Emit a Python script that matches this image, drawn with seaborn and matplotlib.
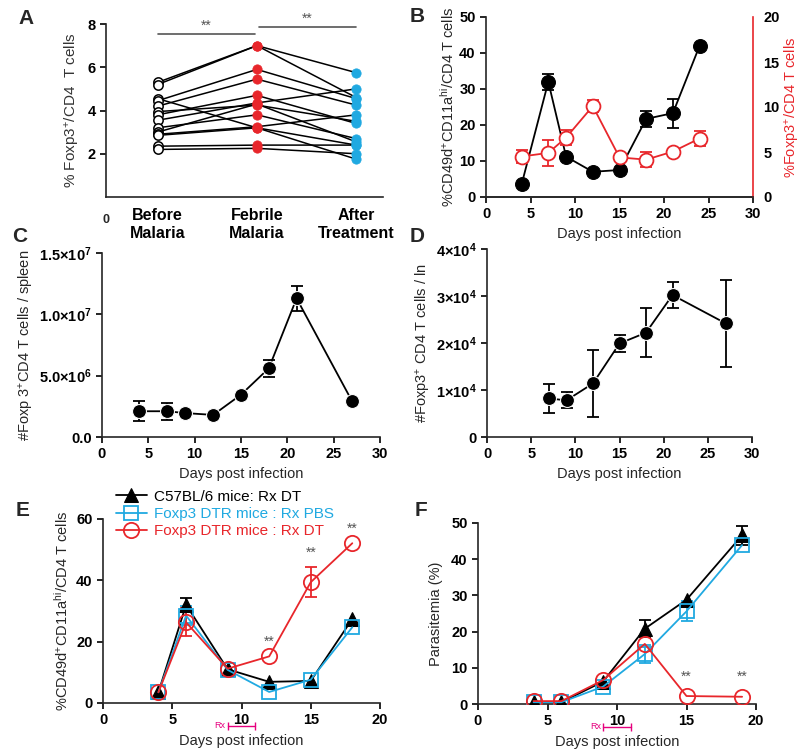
import numpy as np
import pandas as pd
import matplotlib
matplotlib.use("Agg")
import matplotlib.pyplot as plt
import matplotlib.transforms as mtransforms
import seaborn as sns

sns.set_style("ticks")
plt.rcParams.update({
    "font.family": ["Liberation Sans", "DejaVu Sans"],
    "mathtext.fontset": "custom",
    "mathtext.rm": "Liberation Sans",
    "mathtext.it": "Liberation Sans:italic",
    "mathtext.bf": "Liberation Sans:bold",
    "axes.linewidth": 1.2,
    "xtick.major.width": 1.2,
    "ytick.major.width": 1.2,
    "xtick.major.size": 4,
    "ytick.major.size": 4,
    "xtick.color": "black",
    "ytick.color": "black",
})

RED = "#E8262B"
BLUE = "#20A9E1"
PINK = "#E6007E"
GREY = "#555555"
LABEL_FS = 10.5
TICK_FS = 10.5

# ---------------- data ----------------
# A: paired human samples
stages = ["Before\nMalaria", "Febrile\nMalaria", "After\nTreatment"]
before = [5.3, 5.2, 4.55, 4.45, 4.2, 3.95, 3.8, 3.55, 3.2, 3.0, 2.9, 2.85, 2.35, 2.2]
febrile = [7.0, 7.0, 3.2, 5.9, 5.45, 4.25, 4.7, 4.35, 3.8, 4.3, 3.25, 3.2, 2.4, 2.25]
after = [5.75, 4.6, 1.75, 4.55, 4.25, 3.5, 3.4, 5.0, 2.7, 2.55, 3.8, 2.4, 2.4, 2.0]

# B
b_days = [4, 7, 9, 12, 15, 18, 21, 24]
b_act = [3.5, 32.0, 11.2, 7.0, 7.5, 21.7, 23.3, 42.0]
b_act_err = [0, 2.3, 0, 0, 0, 2.2, 4.0, 0]
b_treg = [4.5, 4.9, 6.6, 10.1, 4.4, 4.15, 5.05, 6.5]
b_treg_err = [0.7, 1.45, 0.8, 0.65, 0, 0.85, 0, 0.85]

# C
c_days = [4, 7, 9, 12, 15, 18, 21, 27]
c_spleen = [2.1e6, 2.1e6, 1.95e6, 1.8e6, 3.45e6, 5.6e6, 11.3e6, 2.9e6]
c_err = [0.8e6, 0.7e6, 0, 0, 0, 0.7e6, 1.0e6, 0]

# D
d_days = [7, 9, 12, 15, 18, 21, 27]
d_ln = [8.2e3, 7.8e3, 11.4e3, 19.9e3, 22.2e3, 30.2e3, 24.2e3]
d_err = [3.1e3, 1.7e3, 7.1e3, 1.8e3, 5.2e3, 2.8e3, 9.3e3]

# E / F series
groups = ["C57BL/6 mice: Rx DT", "Foxp3 DTR mice : Rx PBS", "Foxp3 DTR mice : Rx DT"]
e_days = [4, 6, 9, 12, 15, 18]
e_wt = [3.5, 32.0, 11.0, 6.9, 7.2, 27.4]
e_wt_err = [0, 2.3, 0, 0, 0, 0]
e_pbs = [3.5, 28.5, 10.8, 3.6, 7.6, 24.7]
e_pbs_err = [0, 3.0, 0, 0, 0, 0]
e_dt = [3.5, 26.3, 11.2, 15.2, 39.4, 52.1]
e_dt_err = [0, 4.6, 0, 0, 4.9, 0]
e_sig_days = [12, 15, 18]

f_days = [4, 6, 9, 12, 15, 19]
f_wt = [0.5, 0.5, 6.2, 20.8, 28.8, 46.6]
f_wt_err = [0, 0, 0, 2.4, 0, 2.7]
f_pbs = [0.5, 0.5, 4.8, 13.8, 25.6, 43.9]
f_pbs_err = [0, 0, 0, 2.4, 2.8, 0]
f_dt = [0.8, 0.8, 6.6, 16.6, 2.2, 2.0]
f_dt_err = [0, 0, 0, 0, 0, 0]
f_sig_days = [15, 19]

rx_window = [9, 11]

# ---------------- helpers ----------------
W, H = 800, 755
fig = plt.figure(figsize=(8, 7.55), dpi=100)


def make_ax(l, t, r, b):
    return fig.add_axes([l / W, 1 - b / H, (r - l) / W, (b - t) / H])


def style(ax, right=False):
    sns.despine(ax=ax, right=not right, top=True)
    ax.tick_params(labelsize=TICK_FS, direction="out")
    for lab in ax.get_xticklabels() + ax.get_yticklabels():
        lab.set_fontweight("bold")


def errbars(ax, x, y, e, color, lw=1.3):
    x = np.asarray(x, float)
    y = np.asarray(y, float)
    e = np.asarray(e, float)
    m = e > 0
    ax.errorbar(x[m], y[m], yerr=e[m], fmt="none", ecolor=color,
                elinewidth=lw, capsize=4.5, capthick=lw, zorder=2)


def rx_bar(ax):
    tr = mtransforms.blended_transform_factory(ax.transData, ax.transAxes)
    ax.plot(rx_window, [-0.125, -0.125], color=PINK, lw=1.0, marker="|",
            ms=6, mew=1.0, transform=tr, clip_on=False)
    ax.text(rx_window[0] - 0.15, -0.125, "Rx", color=PINK, fontsize=6.5,
            ha="right", va="center", transform=tr)


def letter(x, y, s):
    fig.text(x / W, 1 - y / H, s, fontsize=15, fontweight="bold",
             ha="left", va="center")


# ---------------- A ----------------
axA = make_ax(106, 24, 383, 197)
n = len(before)
dfA = pd.DataFrame({
    "subject": np.tile(np.arange(n), 3),
    "pos": np.repeat([0, 1, 2], n),
    "value": before + febrile + after,
})
sns.lineplot(data=dfA, x="pos", y="value", units="subject", estimator=None,
             color="black", lw=1.1, ax=axA, zorder=2)
sns.scatterplot(x=[0] * n, y=before, ax=axA, s=45, facecolor="white",
                edgecolor="black", linewidth=1.1, zorder=3)
sns.scatterplot(x=[1] * n, y=febrile, ax=axA, s=45, color=RED,
                edgecolor=RED, zorder=3)
sns.scatterplot(x=[2] * n, y=after, ax=axA, s=45, color=BLUE,
                edgecolor=BLUE, zorder=3)
axA.plot([0, 0.98], [7.55, 7.55], color=GREY, lw=1.2)
axA.plot([1.02, 2], [7.88, 7.88], color=GREY, lw=1.2)
axA.text(0.49, 7.6, "**", color=GREY, ha="center", va="bottom", fontsize=10)
axA.text(1.51, 7.93, "**", color=GREY, ha="center", va="bottom", fontsize=10)
axA.set_xlim(-0.52, 2.27)
axA.set_ylim(0, 8)
axA.set_yticks([2, 4, 6, 8])
axA.set_xticks([0, 1, 2])
axA.set_xticklabels(stages, fontsize=11.5)
axA.tick_params(axis="x", length=0, pad=8)
axA.set_xlabel("")
axA.set_ylabel("% Foxp3$^{+}$/CD4  T cells", fontsize=11, color="#333333")
style(axA)
axA.set_xticklabels(stages, fontsize=11.5, fontweight="bold")
axA.text(0, -0.1, "0", transform=axA.transAxes,
         ha="center", va="top", fontsize=9, fontweight="bold")

# ---------------- B ----------------
axB = make_ax(486, 17, 753, 197)
sns.lineplot(x=b_days, y=b_act, ax=axB, color="black", marker="o", ms=10,
             mec="black", lw=1.3, zorder=3)
errbars(axB, b_days, b_act, b_act_err, "black")
axB.set_xlim(0, 30)
axB.set_ylim(0, 50)
axB.set_xticks(range(0, 31, 5))
axB.set_yticks(range(0, 51, 10))
axB.set_xlabel("Days post infection", fontsize=LABEL_FS)
axB.set_ylabel(r"%CD49d$^{+}$CD11a$^{\mathrm{hi}}$/CD4 T cells", fontsize=10.5, labelpad=2)
axB2 = axB.twinx()
sns.lineplot(x=b_days, y=b_treg, ax=axB2, color=RED, marker="o", ms=10,
             mfc="white", mec=RED, mew=1.3, lw=1.3, zorder=3)
errbars(axB2, b_days, b_treg, b_treg_err, RED)
axB2.set_ylim(0, 20)
axB2.set_yticks(range(0, 21, 5))
axB2.set_ylabel("%Foxp3$^{+}$/CD4 T cells", fontsize=10.5, color=RED, labelpad=2)
style(axB)
sns.despine(ax=axB2, top=True, right=False, left=True)
axB2.spines["right"].set_color(RED)
axB2.tick_params(labelsize=TICK_FS)
for lab in axB2.get_yticklabels():
    lab.set_fontweight("bold")

# ---------------- C ----------------
axC = make_ax(102, 253, 380, 437)
sns.lineplot(x=c_days, y=c_spleen, ax=axC, color="black", marker="o", ms=10,
             lw=1.3, zorder=3)
errbars(axC, c_days, c_spleen, c_err, "black")
axC.set_xlim(0, 30)
axC.set_ylim(0, 1.5e7)
axC.set_xticks(range(0, 31, 5))
axC.set_yticks([0, 5e6, 1e7, 1.5e7])
axC.set_yticklabels(["0.0", r"$\mathbf{5.0{\times}10^{6}}$",
                     r"$\mathbf{1.0{\times}10^{7}}$", r"$\mathbf{1.5{\times}10^{7}}$"])
axC.set_xlabel("Days post infection", fontsize=LABEL_FS)
axC.set_ylabel("#Foxp 3$^{+}$CD4 T cells / spleen", fontsize=LABEL_FS, labelpad=2)
style(axC)

# ---------------- D ----------------
axD = make_ax(487, 249, 752, 437)
sns.lineplot(x=d_days, y=d_ln, ax=axD, color="black", marker="o", ms=10,
             lw=1.3, zorder=3)
errbars(axD, d_days, d_ln, d_err, "black")
axD.set_xlim(0, 30)
axD.set_ylim(0, 4e4)
axD.set_xticks(range(0, 31, 5))
axD.set_yticks([0, 1e4, 2e4, 3e4, 4e4])
axD.set_yticklabels(["0"] + [r"$\mathbf{%d{\times}10^{4}}$" % k for k in (1, 2, 3, 4)])
axD.set_xlabel("Days post infection", fontsize=LABEL_FS)
axD.set_ylabel("#Foxp3$^{+}$ CD4 T cells / ln", fontsize=LABEL_FS, labelpad=2)
style(axD)


# ---------------- E / F ----------------
def mouse_panel(ax, days, wt, wt_e, pbs, pbs_e, dt, dt_e):
    sns.lineplot(x=days, y=wt, ax=ax, color="black", marker="^", ms=10,
                 mec="black", lw=1.3, label=groups[0], zorder=3)
    sns.lineplot(x=days, y=pbs, ax=ax, color=BLUE, marker="s", ms=10,
                 mfc="none", mec=BLUE, mew=1.3, lw=1.3, label=groups[1], zorder=4)
    sns.lineplot(x=days, y=dt, ax=ax, color=RED, marker="o", ms=11,
                 mfc="none", mec=RED, mew=1.3, lw=1.3, label=groups[2], zorder=5)
    errbars(ax, days, wt, wt_e, "black")
    errbars(ax, days, pbs, pbs_e, BLUE)
    errbars(ax, days, dt, dt_e, RED)


axE = make_ax(103, 519, 380, 703)
mouse_panel(axE, e_days, e_wt, e_wt_err, e_pbs, e_pbs_err, e_dt, e_dt_err)
for d in e_sig_days:
    yv = e_dt[e_days.index(d)] + e_dt_err[e_days.index(d)]
    axE.text(d, yv + 2.5, "**", color=GREY, ha="center", va="bottom", fontsize=10)
axE.set_xlim(0, 20)
axE.set_ylim(0, 60)
axE.set_xticks(range(0, 21, 5))
axE.set_yticks(range(0, 61, 20))
axE.set_xlabel("Days post infection", fontsize=LABEL_FS, labelpad=5)
axE.set_ylabel(r"%CD49d$^{+}$CD11a$^{\mathrm{hi}}$/CD4 T cells", fontsize=LABEL_FS, labelpad=4)
leg = axE.legend(loc="upper left", bbox_to_anchor=(0.02, 1.2), frameon=False,
                 fontsize=11, handlelength=2.0, handletextpad=0.5,
                 labelspacing=0.2, borderpad=0,
                 labelcolor=["black", BLUE, RED])
style(axE)
rx_bar(axE)

axF = make_ax(478, 523, 756, 704)
mouse_panel(axF, f_days, f_wt, f_wt_err, f_pbs, f_pbs_err, f_dt, f_dt_err)
for d in f_sig_days:
    yv = f_dt[f_days.index(d)]
    axF.text(d, yv + 3.5, "**", color=GREY, ha="center", va="bottom", fontsize=10)
axF.legend_.remove()
axF.set_xlim(0, 20)
axF.set_ylim(0, 50)
axF.set_xticks(range(0, 21, 5))
axF.set_yticks(range(0, 51, 10))
axF.set_xlabel("Days post infection", fontsize=LABEL_FS, labelpad=5)
axF.set_ylabel("Parasitemia (%)", fontsize=LABEL_FS, labelpad=6)
style(axF)
rx_bar(axF)

letter(18, 18, "A")
letter(410, 17, "B")
letter(12, 236, "C")
letter(410, 236, "D")
letter(16, 510, "E")
letter(415, 510, "F")

fig.savefig("out.png", dpi=100)
